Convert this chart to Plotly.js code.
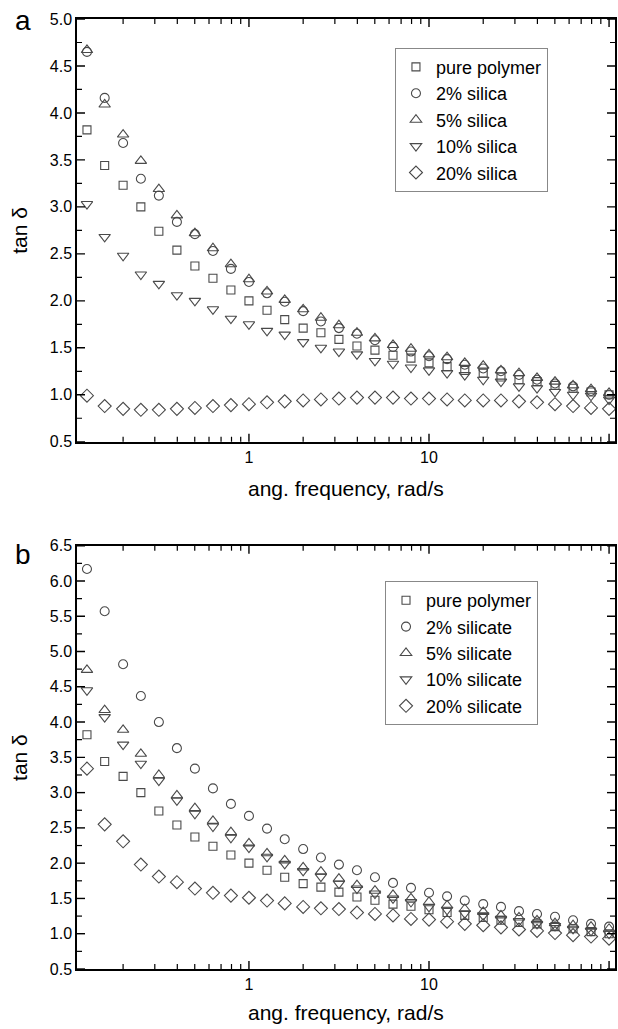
<!DOCTYPE html>
<html>
<head>
<meta charset="utf-8">
<script src="https://cdn.plot.ly/plotly-3.0.1.min.js"></script>
<style>html,body{margin:0;padding:0;background:#fff;}#chart{width:618px;height:1029px;}</style>
</head>
<body>
<div id="chart"></div>
<script>
// angular frequency, rad/s
var freq = [0.126,0.158,0.2,0.251,0.316,0.398,0.501,0.631,0.794,1,1.26,1.58,2,2.51,3.16,3.98,5.01,6.31,7.94,10,12.6,15.8,20,25.1,31.6,39.8,50.1,63.1,79.4,100];

// panel a: silica
var pureA    = [3.82,3.44,3.23,3.00,2.74,2.54,2.37,2.24,2.115,2.00,1.90,1.80,1.71,1.66,1.59,1.52,1.475,1.42,1.39,1.34,1.30,1.26,1.23,1.19,1.16,1.14,1.10,1.07,1.03,1.00];
var silica2  = [4.65,4.16,3.68,3.30,3.12,2.84,2.71,2.53,2.34,2.20,2.08,1.99,1.89,1.78,1.71,1.65,1.58,1.51,1.46,1.41,1.38,1.32,1.28,1.25,1.21,1.16,1.12,1.09,1.04,1.00];
var silica5  = [4.67,4.09,3.77,3.49,3.19,2.91,2.72,2.56,2.39,2.23,2.10,2.01,1.91,1.82,1.74,1.66,1.60,1.53,1.49,1.43,1.40,1.34,1.31,1.26,1.23,1.18,1.14,1.10,1.06,1.02];
var silica10 = [3.03,2.68,2.48,2.28,2.18,2.06,2.00,1.91,1.81,1.75,1.68,1.64,1.56,1.50,1.46,1.43,1.36,1.33,1.29,1.26,1.23,1.21,1.16,1.14,1.09,1.07,1.03,1.00,0.99,0.95];
var silica20 = [0.99,0.88,0.85,0.84,0.84,0.85,0.86,0.88,0.89,0.90,0.92,0.93,0.94,0.95,0.96,0.97,0.97,0.97,0.96,0.96,0.95,0.94,0.94,0.94,0.93,0.92,0.90,0.88,0.86,0.85];

// panel b: silicate
var pureB      = [3.82,3.44,3.23,3.00,2.74,2.54,2.37,2.24,2.115,2.00,1.90,1.80,1.71,1.66,1.59,1.52,1.475,1.42,1.39,1.34,1.30,1.26,1.23,1.19,1.16,1.14,1.10,1.07,1.03,1.00];
var silicate2  = [6.17,5.57,4.82,4.37,4.00,3.63,3.34,3.06,2.84,2.67,2.49,2.34,2.20,2.08,1.98,1.90,1.80,1.72,1.65,1.58,1.53,1.47,1.42,1.38,1.32,1.28,1.24,1.19,1.14,1.10];
var silicate5  = [4.74,4.17,3.89,3.55,3.25,2.96,2.78,2.60,2.44,2.28,2.14,2.04,1.94,1.88,1.78,1.69,1.61,1.55,1.50,1.45,1.40,1.35,1.31,1.26,1.23,1.19,1.15,1.12,1.10,1.07];
var silicate10 = [4.45,4.07,3.68,3.41,3.17,2.89,2.70,2.52,2.36,2.22,2.09,1.99,1.89,1.81,1.71,1.64,1.57,1.50,1.45,1.38,1.34,1.29,1.26,1.21,1.18,1.14,1.11,1.07,1.04,1.00];
var silicate20 = [3.34,2.55,2.31,1.98,1.81,1.73,1.64,1.58,1.54,1.51,1.47,1.43,1.38,1.36,1.35,1.30,1.28,1.26,1.21,1.20,1.17,1.14,1.12,1.09,1.06,1.04,1.01,0.98,0.96,0.93];

var namesA = ['pure polymer','2% silica','5% silica','10% silica','20% silica'];
var namesB = ['pure polymer','2% silicate','5% silicate','10% silicate','20% silicate'];
var xTitle = 'ang. frequency, rad/s';
var yTitle = 'tan \u03b4';

// tick positions (axis ticks, both panels)
var xMajorTicks = [1, 10, 100];
var xMinorTicks = [0.2,0.3,0.4,0.5,0.6,0.7,0.8,0.9,2,3,4,5,6,7,8,9,20,30,40,50,60,70,80,90];
var yMajorTicksA = [0.5,1.0,1.5,2.0,2.5,3.0,3.5,4.0,4.5,5.0];
var yMinorTicksA = [0.75,1.25,1.75,2.25,2.75,3.25,3.75,4.25,4.75];
var yMajorTicksB = [0.5,1.0,1.5,2.0,2.5,3.0,3.5,4.0,4.5,5.0,5.5,6.0,6.5];
var yMinorTicksB = [0.75,1.25,1.75,2.25,2.75,3.25,3.75,4.25,4.75,5.25,5.75,6.25];

var symbols = ['square-open','circle-open','triangle-up-open','triangle-down-open','diamond-open'];
var sizes = [8,9,10,10,10];
var seriesA = [pureA, silica2, silica5, silica10, silica20];
var seriesB = [pureB, silicate2, silicate5, silicate10, silicate20];

var mcol = '#4a4a4a';
var traces = [];
seriesA.forEach(function(y,i){
  traces.push({x:freq, y:y, type:'scatter', mode:'markers', name:namesA[i],
    xaxis:'x', yaxis:'y', legend:'legend',
    marker:{symbol:symbols[i], size:sizes[i], color:mcol, line:{color:mcol, width:1.1}}});
});
seriesB.forEach(function(y,i){
  traces.push({x:freq, y:y, type:'scatter', mode:'markers', name:namesB[i],
    xaxis:'x2', yaxis:'y2', legend:'legend2',
    marker:{symbol:symbols[i], size:sizes[i], color:mcol, line:{color:mcol, width:1.1}}});
});

var font = 'Liberation Sans, Arial, sans-serif';
var plotW = 538, plotHA = 422.7, plotHB = 423.3;

function xax(anchor){
  return {
    type:'log', range:[-0.955, 2.033], anchor:anchor,
    showline:true, linecolor:'#000', linewidth:1.5, mirror:true,
    ticks:'', tickvals:xMajorTicks, ticktext:['1','10','100'],
    showgrid:false, zeroline:false
  };
}
function yax(range, domain, anchor, vals){
  return {
    range:range, domain:domain, anchor:anchor,
    showline:true, linecolor:'#000', linewidth:1.5, mirror:true,
    ticks:'', tickvals:vals, ticktext:vals.map(function(v){return v.toFixed(1);}),
    showgrid:false, zeroline:false
  };
}

// tick marks drawn inside the frame, placed through the axes' own scales
var shapes = [];
function tickLine(xref, yref, x0, x1, y0, y1, w){
  shapes.push({type:'line', xref:xref, yref:yref, x0:x0, x1:x1, y0:y0, y1:y1, layer:'above',
    line:{color:'#000', width:w}});
}
function xTicks(xa, ya, vals, len, h, w){
  var f = len / h;
  vals.forEach(function(v){
    tickLine(xa, ya + ' domain', v, v, 0, f, w);
    tickLine(xa, ya + ' domain', v, v, 1, 1 - f, w);
  });
}
function yTicks(xa, ya, vals, len, w){
  var f = len / plotW;
  vals.forEach(function(v){
    tickLine(xa + ' domain', ya, 0, f, v, v, w);
    tickLine(xa + ' domain', ya, 1, 1 - f, v, v, w);
  });
}
xTicks('x', 'y', xMajorTicks, 8, plotHA, 1.4);
xTicks('x', 'y', xMinorTicks, 5, plotHA, 1.2);
xTicks('x2', 'y2', xMajorTicks, 8, plotHB, 1.4);
xTicks('x2', 'y2', xMinorTicks, 5, plotHB, 1.2);
yTicks('x', 'y', yMajorTicksA, 8, 1.4);
yTicks('x', 'y', yMinorTicksA, 5, 1.2);
yTicks('x2', 'y2', yMajorTicksB, 8, 1.4);
yTicks('x2', 'y2', yMinorTicksB, 5, 1.2);

var legendCommon = {
  xanchor:'left', yanchor:'top', bgcolor:'#fff', bordercolor:'#888', borderwidth:1,
  font:{family:font, size:18, color:'#000'}
};

function ann(text, x, y, size, angle){
  return {text:text, xref:'paper', yref:'paper', x:x, y:y, xanchor:'center', yanchor:'middle',
    showarrow:false, textangle:angle||0, font:{family:font, size:size, color:'#000'}};
}

var layout = {
  width:618, height:1029,
  margin:{l:77, r:3, t:19, b:60},
  font:{family:font, size:16, color:'#000'},
  showlegend:true,
  xaxis: xax('y'),
  yaxis: yax([0.5,5.0],[0.555,1],'x', yMajorTicksA),
  xaxis2: xax('y2'),
  yaxis2: yax([0.5,6.5],[0,0.4456],'x2', yMajorTicksB),
  legend: Object.assign({x:0.591, y:0.9698}, legendCommon),
  legend2: Object.assign({x:0.5725, y:0.4084}, legendCommon),
  shapes: shapes,
  annotations:[
    ann('a', -0.1004, 0.998, 28),
    ann('b', -0.1004, 0.4358, 28),
    ann(xTitle, 0.5, 0.5053, 21),
    ann(xTitle, 0.5, -0.0463, 21),
    ann(yTitle, -0.106, 0.778, 21, -90),
    ann(yTitle, -0.106, 0.2232, 21, -90)
  ]
};

Plotly.newPlot('chart', traces, layout, {displayModeBar:false});
</script>
</body>
</html>
